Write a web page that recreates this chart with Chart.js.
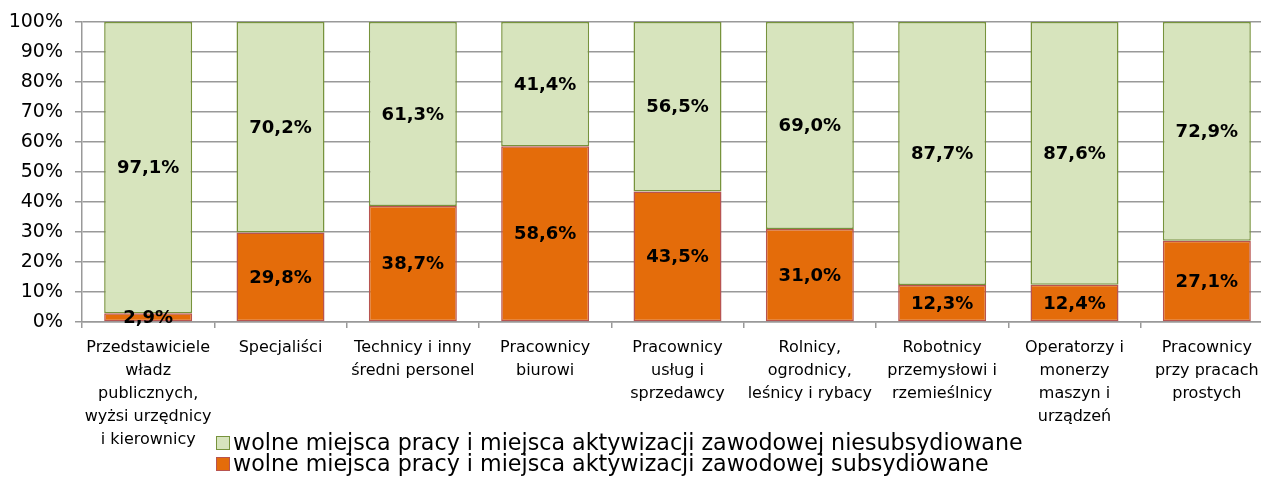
<!DOCTYPE html>
<html>
<head>
<meta charset="utf-8">
<script src="https://cdn.jsdelivr.net/npm/chart.js@4"></script>
<style>
    html, body { margin: 0; padding: 0; background: #fff; overflow: hidden; }
    #wrap { position: relative; width: 1280px; height: 483px; }
    #legend {
        position: absolute; left: 216px; top: 432px;
        font-family: "DejaVu Sans", sans-serif; font-size: 22.2px; color: #000;
        line-height: 21px;
    }
    #legend div { display: flex; align-items: center; white-space: nowrap; }
    #legend span.box { display: inline-block; width: 12px; height: 12px; margin-right: 3px; }
</style>
</head>
<body>
<div id="wrap">
    <canvas id="chart" width="1280" height="483"></canvas>
    <div id="legend"></div>
</div>
<script>
// categories (multi-line labels)
const categories = [
    ['Przedstawiciele', 'władz', 'publicznych,', 'wyżsi urzędnicy', 'i kierownicy'],
    ['Specjaliści'],
    ['Technicy i inny', 'średni personel'],
    ['Pracownicy', 'biurowi'],
    ['Pracownicy', 'usług i', 'sprzedawcy'],
    ['Rolnicy,', 'ogrodnicy,', 'leśnicy i rybacy'],
    ['Robotnicy', 'przemysłowi i', 'rzemieślnicy'],
    ['Operatorzy i', 'monerzy', 'maszyn i', 'urządzeń'],
    ['Pracownicy', 'przy pracach', 'prostych']
];

const subsidized = [2.9, 29.8, 38.7, 58.6, 43.5, 31.0, 12.3, 12.4, 27.1];
const unsubsidized = [97.1, 70.2, 61.3, 41.4, 56.5, 69.0, 87.7, 87.6, 72.9];

const labelSub = 'wolne miejsca pracy i miejsca aktywizacji zawodowej subsydiowane';
const labelUnsub = 'wolne miejsca pracy i miejsca aktywizacji zawodowej niesubsydiowane';

const yTicks = [0, 10, 20, 30, 40, 50, 60, 70, 80, 90, 100];

// value labels in the middle of each segment
const valueLabels = {
    id: 'valueLabels',
    afterDatasetsDraw(chart) {
        const ctx = chart.ctx;
        ctx.save();
        ctx.font = 'bold 18px "DejaVu Sans", sans-serif';
        ctx.fillStyle = '#000';
        ctx.textAlign = 'center';
        ctx.textBaseline = 'middle';
        chart.data.datasets.forEach((ds, i) => {
            const meta = chart.getDatasetMeta(i);
            meta.data.forEach((bar, j) => {
                const p = bar.getCenterPoint();
                const txt = ds.data[j].toFixed(1).replace('.', ',') + '%';
                ctx.fillText(txt, p.x, p.y + 1);
            });
        });
        ctx.restore();
    }
};

const chart = new Chart(document.getElementById('chart'), {
    type: 'bar',
    data: {
        labels: categories,
        datasets: [
            {
                label: labelSub,
                data: subsidized,
                backgroundColor: '#e46c0a',
                borderColor: '#b85450',
                borderWidth: 1.5,
                borderSkipped: false
            },
            {
                label: labelUnsub,
                data: unsubsidized,
                backgroundColor: '#d7e4bd',
                borderColor: '#77933c',
                borderWidth: 1.5,
                borderSkipped: false
            }
        ]
    },
    options: {
        responsive: false,
        animation: false,
        layout: { padding: { top: 22, right: 7, left: 0, bottom: 0 } },
        datasets: { bar: { categoryPercentage: 1, barPercentage: 0.665 } },
        plugins: {
            legend: { display: false },
            tooltip: { enabled: false }
        },
        scales: {
            x: {
                stacked: true,
                afterFit: (scale) => { scale.height = 161; },
                grid: {
                    offset: true,
                    drawOnChartArea: false,
                    color: '#999',
                    tickLength: 6,
                    lineWidth: 1.5
                },
                border: { color: '#999', width: 1.5 },
                ticks: {
                    color: '#000',
                    maxRotation: 0,
                    autoSkip: false,
                    padding: 8,
                    font: { family: '"DejaVu Sans", sans-serif', size: 16, lineHeight: 1.44 }
                }
            },
            y: {
                stacked: true,
                min: 0,
                max: 100,
                afterFit: (scale) => {
                    scale.width = 82;
                    scale.paddingTop = 0;
                    scale.paddingBottom = 0;
                },
                afterBuildTicks: (scale) => { scale.ticks = yTicks.map(v => ({ value: v })); },
                grid: { color: '#999', tickLength: 7, lineWidth: 1.5 },
                border: { color: '#999', width: 1.5 },
                ticks: {
                    color: '#000',
                    padding: 12,
                    font: { family: '"DejaVu Sans", sans-serif', size: 19 },
                    callback: (v) => v + '%'
                }
            }
        }
    },
    plugins: [valueLabels]
});

// legend: non-subsidized first, then subsidized
const legendEl = document.getElementById('legend');
[1, 0].forEach(i => {
    const ds = chart.data.datasets[i];
    const row = document.createElement('div');
    const box = document.createElement('span');
    box.className = 'box';
    box.style.background = ds.backgroundColor;
    box.style.border = '1.5px solid ' + ds.borderColor;
    row.appendChild(box);
    row.appendChild(document.createTextNode(ds.label));
    legendEl.appendChild(row);
});
</script>
</body>
</html>
